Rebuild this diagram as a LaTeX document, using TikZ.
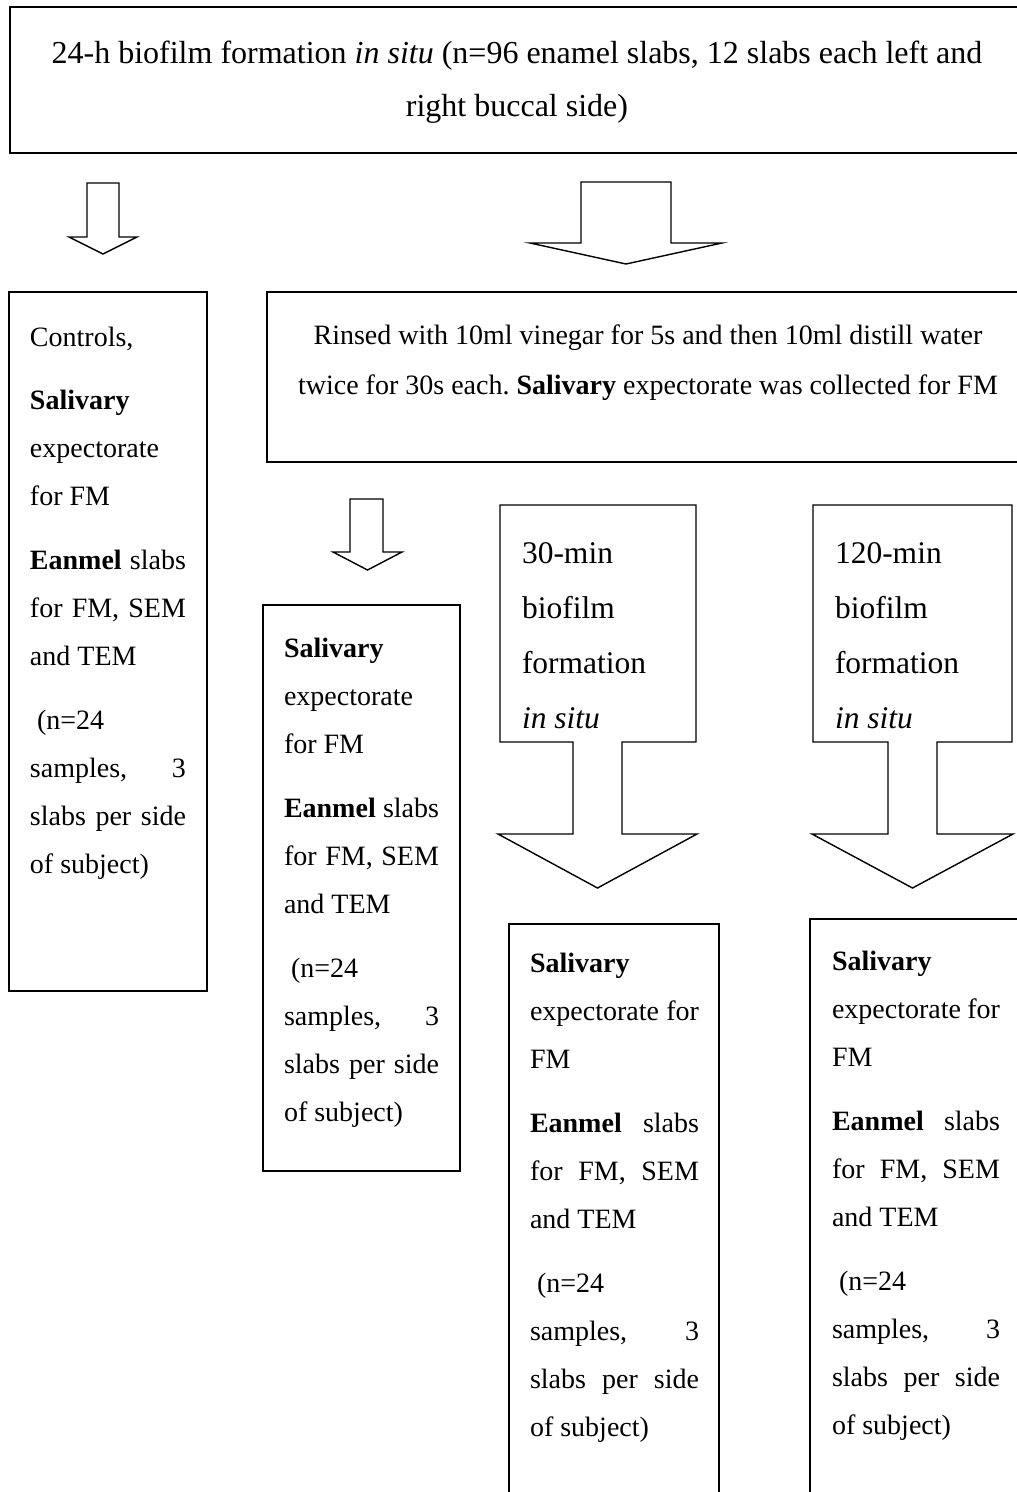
\documentclass[tikz,border=0pt]{standalone}
\usepackage{fontspec}
\setmainfont{Liberation Serif}
\frenchspacing
\newcommand\bodyfont{\fontsize{28}{48}\selectfont}
\newcommand\jl[1]{\makebox[\linewidth][s]{#1}}
\newcommand\pg{\\[16pt]}
\tikzset{
  frame/.style={draw=black, line width=1.4pt, fill=white, inner sep=0pt, outer sep=0pt, anchor=north west},
  blk/.style={draw=black, line width=1.4pt, fill=white, line join=miter},
  txt/.style={anchor=base west, inner sep=0pt, outer sep=0pt},
}
\begin{document}
\begin{tikzpicture}[x=1pt,y=-1pt]
\useasboundingbox (0,0) rectangle (1017,1492);
\clip (0,0) rectangle (1017,1492);
\fill[white] (0,0) rectangle (1017,1492);

% boxes
\node[frame, minimum width=1014pt, minimum height=146pt] (top) at (10,7) {};
\node[frame, minimum width=198pt, minimum height=699pt] (ctrl) at (9,292) {};
\node[frame, minimum width=762pt, minimum height=170pt] (rinse) at (267,292) {};
\node[frame, minimum width=197pt, minimum height=566pt] (mid) at (263,605) {};
\node[frame, minimum width=210pt, minimum height=700pt] (botA) at (509,924) {};
\node[frame, minimum width=230pt, minimum height=700pt] (botB) at (810,919) {};

% block arrows
\draw[blk] (87,183) -- (119,183) -- (119,237) -- (137,237) -- (103,254) -- (69,237) -- (87,237) -- cycle;
\draw[blk] (581,182) -- (671,182) -- (671,243) -- (722,243) -- (626,264) -- (530,243) -- (581,243) -- cycle;
\draw[blk] (350,499) -- (383,499) -- (383,552) -- (402,552) -- (367.5,570) -- (333,552) -- (350,552) -- cycle;

% callout arrows
\draw[blk] (500,505) -- (696,505) -- (696,742) -- (622,742) -- (622,834) -- (697,834) -- (597.5,888) -- (498,834) -- (573,834) -- (573,742) -- (500,742) -- cycle;
\draw[blk] (813,505) -- (1012,505) -- (1012,742) -- (937,742) -- (937,834) -- (1013,834) -- (912.5,888) -- (812,834) -- (888,834) -- (888,742) -- (813,742) -- cycle;

% texts
\node[anchor=base, inner sep=0pt] (toptxt) at (517,63) {\parbox[t]{1000pt}{\centering\fontsize{32}{53}\selectfont
24-h biofilm formation \textit{in situ} (n=96 enamel slabs, 12 slabs each left and\\
right buccal side)}};

\node[anchor=base, inner sep=0pt] (rinsetxt) at (648,344) {\parbox[t]{740pt}{\centering\fontsize{28}{50}\selectfont
Rinsed with 10ml vinegar for 5s and then 10ml distill water\\
twice for 30s each. \textbf{Salivary} expectorate was collected for FM}};

\node[txt] (ctrltxt) at (30,346) {\parbox[t]{156pt}{\bodyfont\raggedright
Controls,\\[15pt]
\textbf{Salivary}\\
expectorate\\
for FM\pg
\jl{\textbf{Eanmel} slabs}\\
\jl{for FM, SEM}\\
and TEM\pg
\hspace*{7pt}(n=24\\
\jl{samples, 3}\\
\jl{slabs per side}\\
of subject)}};

\node[txt] (midtxt) at (284,657) {\parbox[t]{155pt}{\bodyfont\raggedright
\textbf{Salivary}\\
expectorate\\
for FM\pg
\jl{\textbf{Eanmel} slabs}\\
\jl{for FM, SEM}\\
and TEM\pg
\hspace*{7pt}(n=24\\
\jl{samples, 3}\\
\jl{slabs per side}\\
of subject)}};

\node[txt] (t30) at (522,563) {\parbox[t]{170pt}{\fontsize{31.5}{55}\selectfont\raggedright
30-min\\ biofilm\\ formation\\ \textit{in situ}}};
\node[txt] (t120) at (835,563) {\parbox[t]{170pt}{\fontsize{31.5}{55}\selectfont\raggedright
120-min\\ biofilm\\ formation\\ \textit{in situ}}};

\node[txt] (botAtxt) at (530,972) {\parbox[t]{169pt}{\bodyfont\raggedright
\textbf{Salivary}\\
\jl{expectorate for}\\
FM\pg
\jl{\textbf{Eanmel} slabs}\\
\jl{for FM, SEM}\\
and TEM\pg
\hspace*{7pt}(n=24\\
\jl{samples, 3}\\
\jl{slabs per side}\\
of subject)}};

\node[txt] (botBtxt) at (832,970) {\parbox[t]{168pt}{\bodyfont\raggedright
\textbf{Salivary}\\
\jl{expectorate for}\\
FM\pg
\jl{\textbf{Eanmel} slabs}\\
\jl{for FM, SEM}\\
and TEM\pg
\hspace*{7pt}(n=24\\
\jl{samples, 3}\\
\jl{slabs per side}\\
of subject)}};
\end{tikzpicture}
\end{document}
